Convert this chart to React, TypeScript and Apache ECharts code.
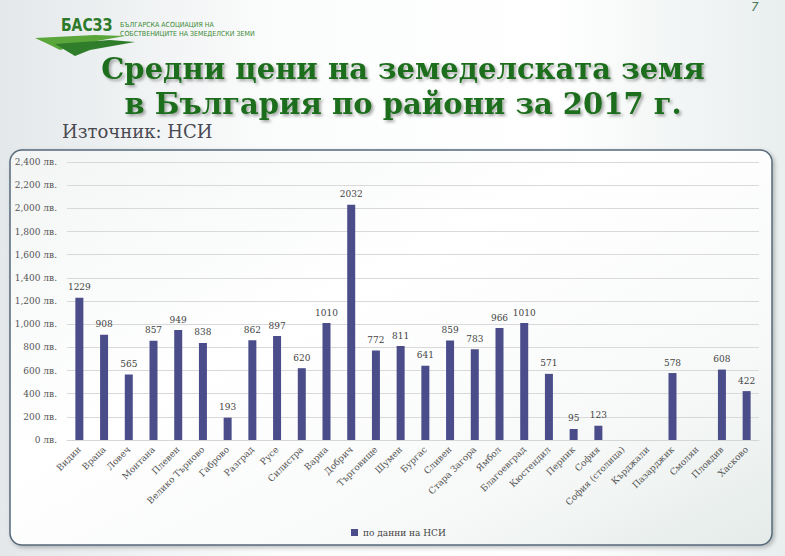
import React, { useEffect, useRef } from "react";
import * as echarts from "echarts";

const categories = [
  "Видин", "Враца", "Ловеч", "Монтана", "Плевен", "Велико Търново", "Габрово",
  "Разград", "Русе", "Силистра", "Варна", "Добрич", "Търговище", "Шумен",
  "Бургас", "Сливен", "Стара Загора", "Ямбол", "Благоевград", "Кюстендил",
  "Перник", "София", "София (столица)", "Кърджали", "Пазарджик", "Смолян",
  "Пловдив", "Хасково",
];
const prices = [
  1229, 908, 565, 857, 949, 838, 193, 862, 897, 620, 1010, 2032, 772, 811,
  641, 859, 783, 966, 1010, 571, 95, 123, null, null, 578, null, 608, 422,
];
const seriesName = "по данни на НСИ";
const titleLines = ["Средни цени на земеделската земя", "в България по райони за 2017 г."];
const sourceText = "Източник: НСИ";

const SERIF = "'DejaVu Serif', 'Liberation Serif', serif";

export default function App() {
  const ref = useRef<HTMLDivElement>(null);
  useEffect(() => {
    if (!ref.current) return;
    const chart = echarts.init(ref.current, null, { renderer: "svg" });
    const fmt = (v: number) =>
      v.toString().replace(/\B(?=(\d{3})+(?!\d))/g, ",") + " лв.";
    chart.setOption({
      animation: false,
      backgroundColor: "#f4f6f6",
      graphic: [
        {
          type: "rect",
          z: -10,
          shape: { x: 0, y: 0, width: 785, height: 556 },
          style: {
            fill: new echarts.graphic.LinearGradient(0, 0, 1, 0, [
              { offset: 0, color: "#e4e8ea" },
              { offset: 0.35, color: "#fbfcfc" },
              { offset: 0.7, color: "#ffffff" },
              { offset: 1, color: "#e9eeee" },
            ]),
          },
        },
        // logo swoosh
        {
          type: "polygon",
          z: -5,
          shape: { points: [[35, 38], [95, 35], [125, 36], [80, 44], [60, 50], [48, 44]] },
          style: { fill: "#5aa63a" },
        },
        {
          type: "polygon",
          z: -5,
          shape: { points: [[55, 44], [110, 40], [135, 42], [90, 50], [75, 56]] },
          style: { fill: "#2f7d2a" },
        },
        {
          type: "text",
          x: 61,
          y: 17,
          scaleX: 0.82,
          style: { x: 0, y: 0, text: "БАСЗЗ", fill: "#2d7a2a", font: "bold 17px 'DejaVu Sans', sans-serif" },
        },
        {
          type: "text",
          x: 120,
          y: 20,
          scaleX: 0.9,
          style: {
            x: 0, y: 0,
            text: "БЪЛГАРСКА АСОЦИАЦИЯ НА\nСОБСТВЕНИЦИТЕ НА ЗЕМЕДЕЛСКИ ЗЕМИ",
            fill: "#3b8a35", font: "7px 'DejaVu Sans', sans-serif", lineHeight: 9,
          },
        },
        {
          type: "text",
          style: { x: 751, y: 1, text: "7", fill: "#4a7a5a", font: "italic 12px 'DejaVu Sans', sans-serif" },
        },
        // title
        {
          type: "text",
          style: {
            x: 403, y: 86, text: titleLines.join("\n"), align: "center", verticalAlign: "middle",
            fill: "#1f6e1f", font: "bold 29px " + SERIF, lineHeight: 35,
            textShadowColor: "rgba(0,0,0,0.35)", textShadowBlur: 3, textShadowOffsetX: 2, textShadowOffsetY: 2,
          },
        },
        {
          type: "text",
          style: { x: 62, y: 122, text: sourceText, fill: "#4a4a52", font: "18px 'DejaVu Serif', serif" },
        },
        // frame
        {
          type: "rect",
          z: -4,
          shape: { x: 10, y: 150, width: 762, height: 395, r: 12 },
          style: {
            fill: new echarts.graphic.LinearGradient(0, 0, 1, 1, [
              { offset: 0, color: "#f3f5f5" },
              { offset: 0.4, color: "#ffffff" },
              { offset: 0.75, color: "#f7f9f8" },
              { offset: 1, color: "#e4ebe8" },
            ]),
            stroke: "#55687a",
            lineWidth: 1.5,
            shadowColor: "rgba(0,0,0,0.25)",
            shadowBlur: 4,
            shadowOffsetX: 2,
            shadowOffsetY: 2,
          },
        },
      ],
      legend: {
        show: true,
        left: 346,
        top: 523,
        itemWidth: 7,
        itemHeight: 7,
        itemGap: 4,
        icon: "rect",
        textStyle: { fontFamily: SERIF, fontSize: 9, color: "#444" },
        data: [seriesName],
      },
      grid: { left: 67, top: 162, width: 692, height: 278, containLabel: false },
      xAxis: {
        type: "category",
        data: categories,
        axisLine: { show: true, lineStyle: { color: "#d6d6d6" } },
        axisTick: { show: false },
        axisLabel: {
          interval: 0,
          rotate: 45,
          margin: 8,
          fontFamily: SERIF,
          fontSize: 9,
          color: "#555",
        },
      },
      yAxis: {
        type: "value",
        min: 0,
        max: 2400,
        interval: 200,
        axisLine: { show: false },
        axisTick: { show: false },
        splitLine: { lineStyle: { color: "#d9d9d9" } },
        axisLabel: { formatter: fmt, fontFamily: SERIF, fontSize: 9, color: "#555", margin: 10 },
      },
      series: [
        {
          name: seriesName,
          type: "bar",
          data: prices,
          barWidth: 8,
          itemStyle: { color: "#4b4d8b" },
          label: {
            show: true,
            position: "top",
            distance: 6,
            fontFamily: SERIF,
            fontSize: 9,
            color: "#444",
          },
        },
      ],
    });
    return () => chart.dispose();
  }, []);
  return (
    <div
      ref={ref}
      style={{ position: "fixed", left: 0, top: 0, width: 785, height: 556 }}
    />
  );
}
